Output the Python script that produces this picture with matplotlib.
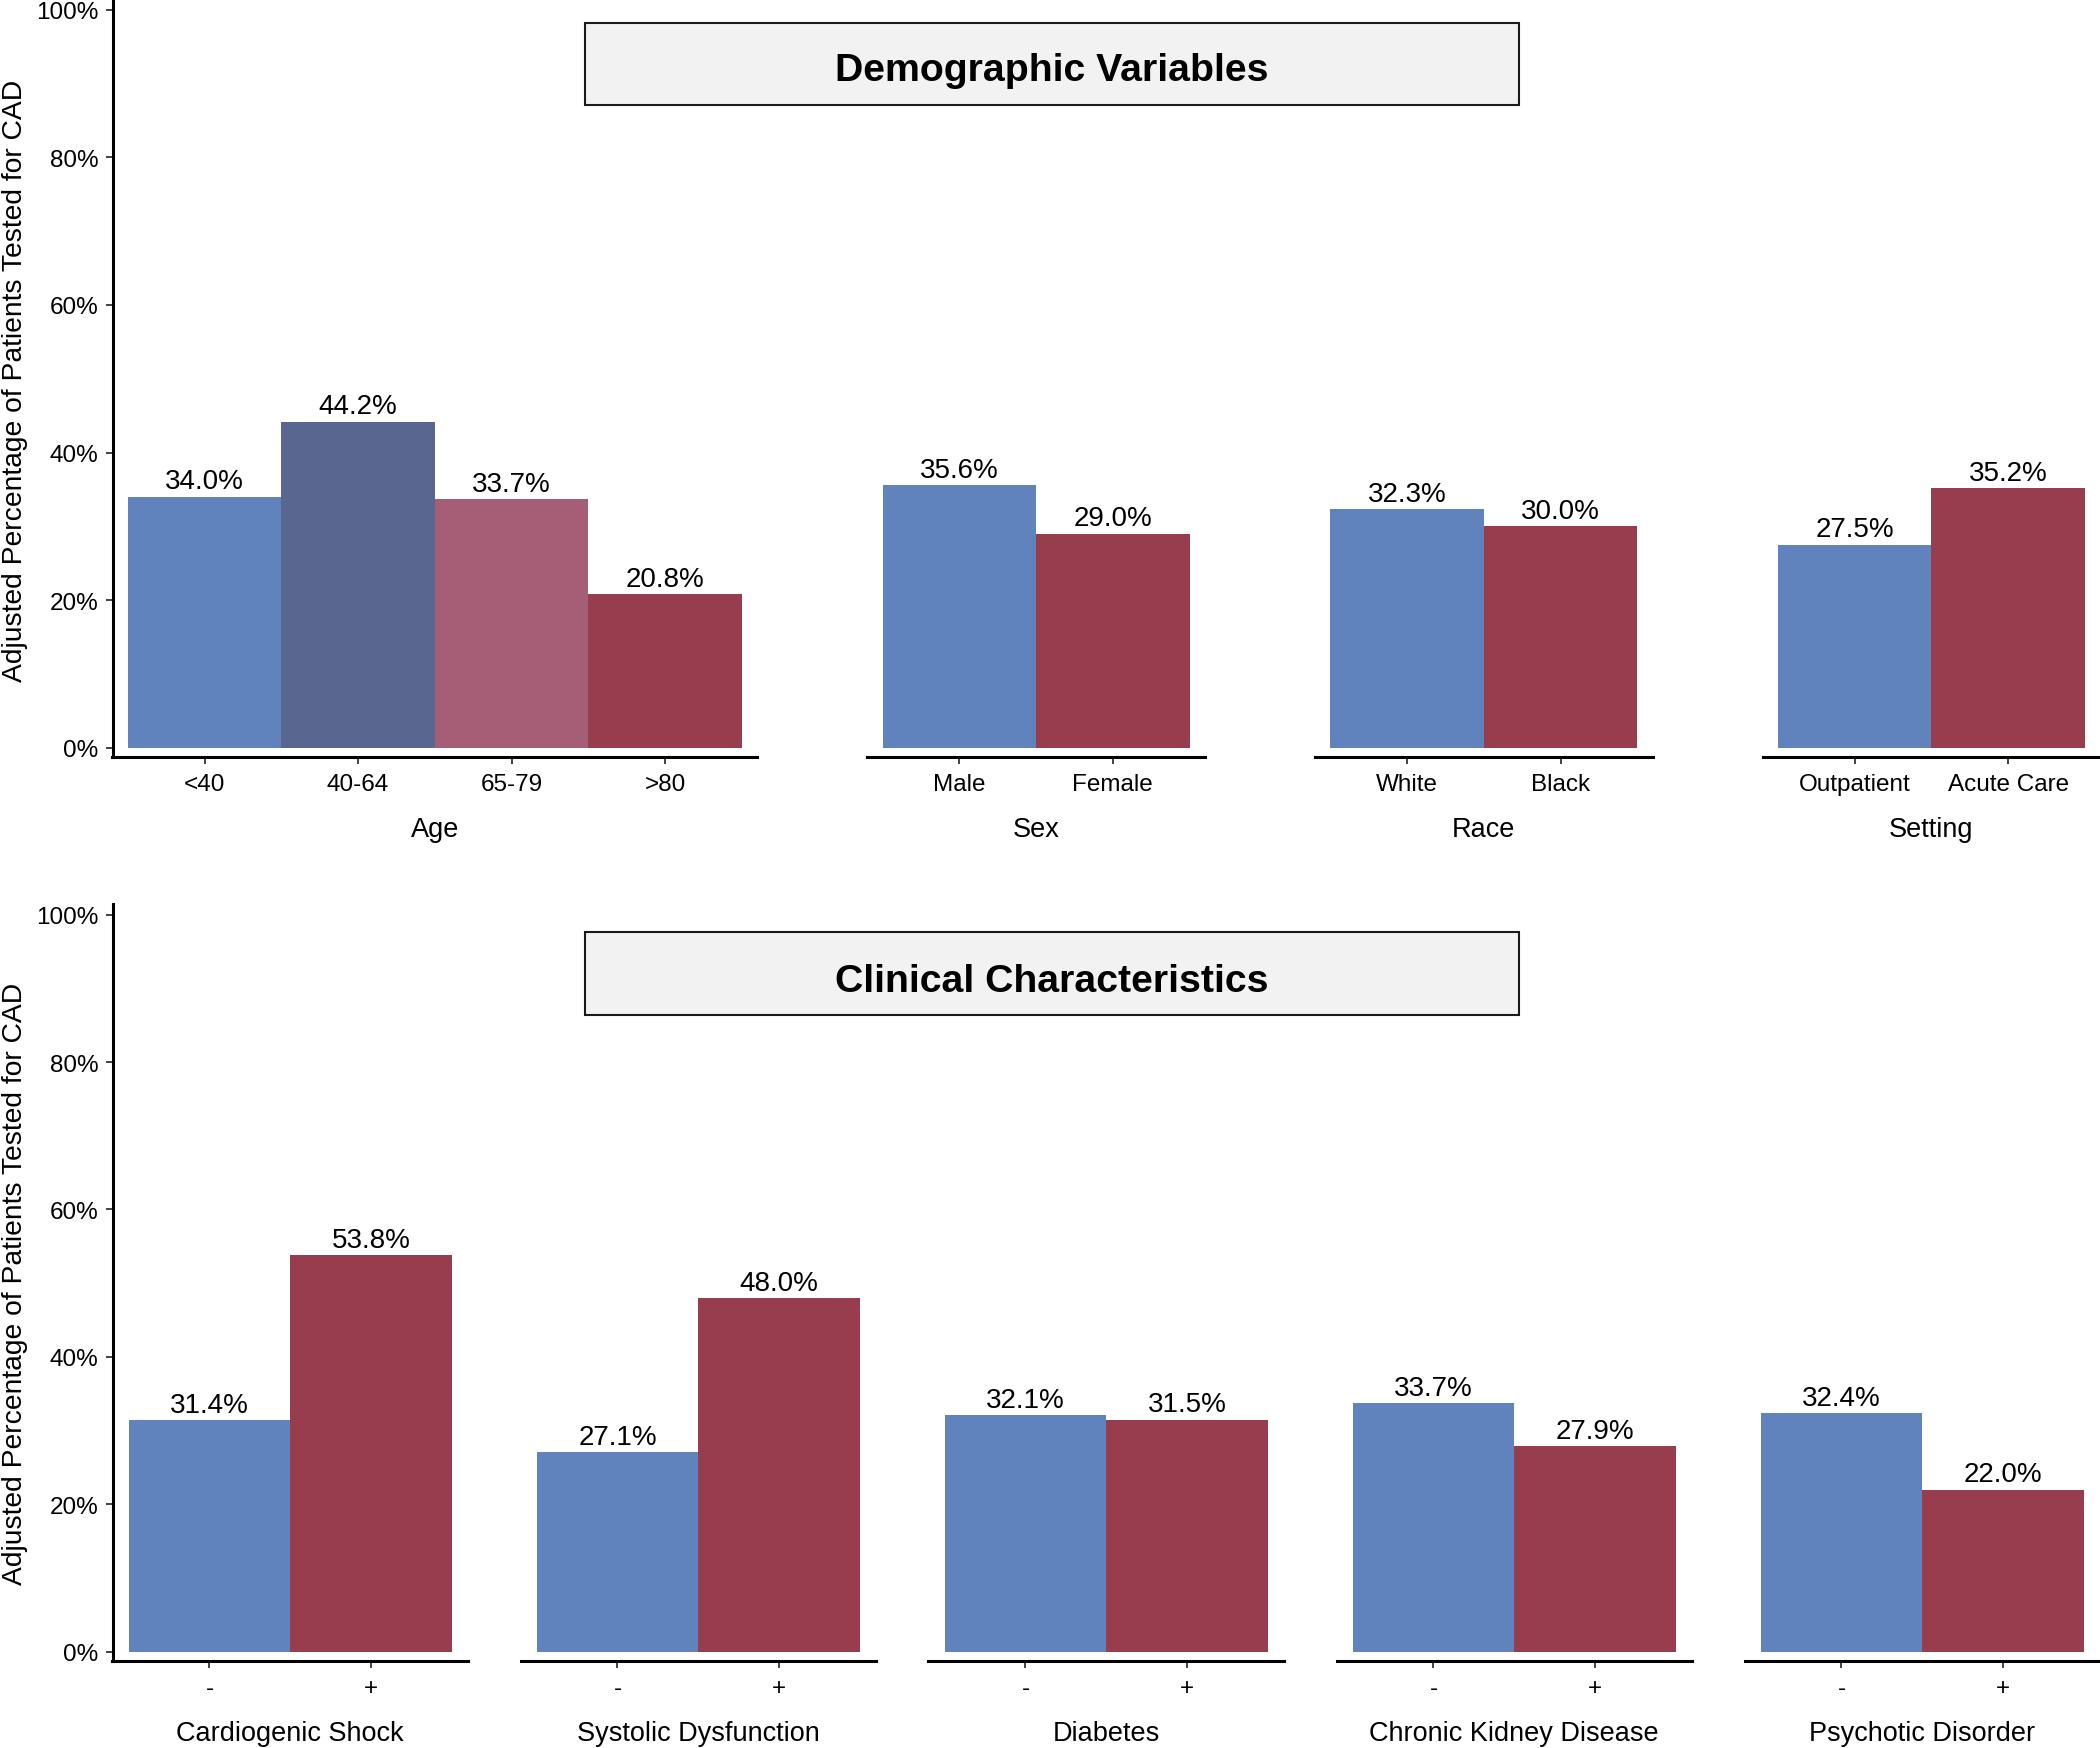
import matplotlib
matplotlib.use("Agg")
import matplotlib.pyplot as plt
from matplotlib.patches import Rectangle
from matplotlib.ticker import PercentFormatter

plt.rcParams["font.family"] = ["Liberation Sans", "DejaVu Sans"]

# ---- data (adjusted % tested for CAD) ----
age_labels = ["<40", "40-64", "65-79", ">80"]
age_values = [34.0, 44.2, 33.7, 20.8]
sex_labels = ["Male", "Female"]
sex_values = [35.6, 29.0]
race_labels = ["White", "Black"]
race_values = [32.3, 30.0]
setting_labels = ["Outpatient", "Acute Care"]
setting_values = [27.5, 35.2]

clin_labels = ["-", "+"]
clin_groups = ["Cardiogenic Shock", "Systolic Dysfunction", "Diabetes",
               "Chronic Kidney Disease", "Psychotic Disorder"]
shock_values = [31.4, 53.8]
systolic_values = [27.1, 48.0]
diabetes_values = [32.1, 31.5]
ckd_values = [33.7, 27.9]
psychotic_values = [32.4, 22.0]

BLUE, NAVY, PINK, RED = "#6083BD", "#59668F", "#A65E76", "#983D4E"

W, H = 2100, 1749
fig = plt.figure(figsize=(W / 100, H / 100), dpi=100)

YLIM = (-1.26, 101.45)


def panel(x0, width, top, bottom, labels, values, colors, title, first):
    ax = fig.add_axes([x0 / W, 1 - bottom / H, width / W, (bottom - top) / H])
    xs = list(range(len(values)))
    ax.bar(xs, values, width=1.0, color=colors, linewidth=0)
    for x, v in zip(xs, values):
        ax.annotate(f"{v:.1f}%", (x, v), xytext=(0, 6), textcoords="offset points",
                    ha="center", va="baseline", fontsize=20)
    ax.set_xlim(-0.6, len(values) - 0.4)
    ax.set_ylim(*YLIM)
    ax.set_xticks(xs)
    ax.set_xticklabels(labels, fontsize=17.5)
    ax.set_xlabel(title, fontsize=19.5, labelpad=15)
    for s in ("top", "right"):
        ax.spines[s].set_visible(False)
    ax.spines["bottom"].set_linewidth(2.2)
    ax.tick_params(axis="x", length=5, width=1.3, color="#333333", pad=6.5)
    if first:
        ax.spines["left"].set_linewidth(2.2)
        ax.set_yticks([0, 20, 40, 60, 80, 100])
        ax.yaxis.set_major_formatter(PercentFormatter(decimals=0))
        ax.tick_params(axis="y", length=5, width=1.3, color="#333333", pad=5,
                       labelsize=17.5)
    else:
        ax.spines["left"].set_visible(False)
        ax.set_yticks([])
    ax.patch.set_alpha(0)
    return ax


# ---- top row: demographics ----
u = 153.5
gap = 110
top_y0, top_y1 = 0, 758
x = 112.5
top_sets = [
    (age_labels, age_values, [BLUE, NAVY, PINK, RED], "Age"),
    (sex_labels, sex_values, [BLUE, RED], "Sex"),
    (race_labels, race_values, [BLUE, RED], "Race"),
    (setting_labels, setting_values, [BLUE, RED], "Setting"),
]
for i, (lab, val, cols, ttl) in enumerate(top_sets):
    w = (len(val) + 0.2) * u
    panel(x, w, top_y0, top_y1, lab, val, cols, ttl, i == 0)
    x += w + gap

# ---- bottom row: clinical ----
bw, bgap = 355.5, 52.5
bot_y0, bot_y1 = 905, 1662
clin_values = [shock_values, systolic_values, diabetes_values, ckd_values, psychotic_values]
x = 112.5
for i, (ttl, val) in enumerate(zip(clin_groups, clin_values)):
    panel(x, bw, bot_y0, bot_y1, clin_labels, val, [BLUE, RED], ttl, i == 0)
    x += bw + bgap

# ---- y labels ----
ylab = "Adjusted Percentage of Patients Tested for CAD"
fig.text(15 / W, 1 - 381 / H, ylab, rotation=90, ha="center", va="center", fontsize=20.3)
fig.text(15 / W, 1 - 1284 / H, ylab, rotation=90, ha="center", va="center", fontsize=20.3)

# ---- section header boxes ----
for (y0, y1, ty, txt) in [(24, 106, 71, "Demographic Variables"),
                          (933, 1016, 982, "Clinical Characteristics")]:
    fig.patches.append(Rectangle((585 / W, 1 - y1 / H), (1519 - 585) / W, (y1 - y0) / H,
                                 transform=fig.transFigure, facecolor="#F2F2F2",
                                 edgecolor="#1a1a1a", linewidth=1.5))
    fig.text(1052 / W, 1 - ty / H, txt, ha="center", va="center",
             fontsize=28.3, fontweight="bold")

fig.savefig("out.png", dpi=100)
